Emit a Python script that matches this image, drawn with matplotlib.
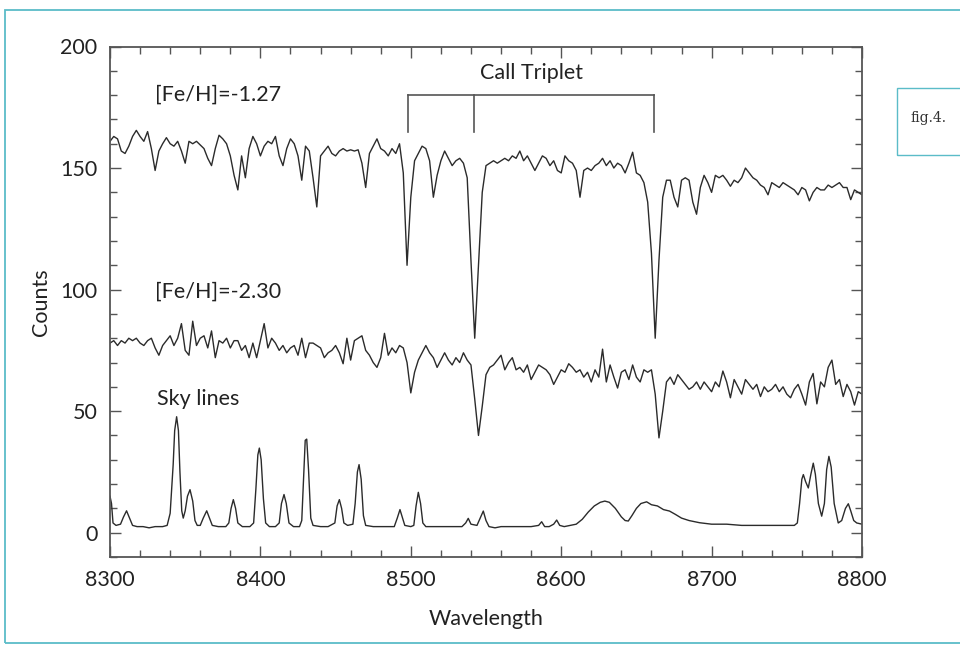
import numpy as np
import matplotlib.pyplot as plt
from matplotlib.patches import Rectangle
from matplotlib.ticker import MultipleLocator

# ---------------------------------------------------------------- data
# common wavelength grid of the two stellar spectra (2.5 A step)
wave = np.arange(8300.0, 8800.1, 2.5)

# [Fe/H] = -1.27 star
flux_metal_rich = [
    161, 163, 162, 157, 156, 159, 163, 165.5, 163, 161,      # 8300
    165, 158, 149, 157, 160, 162.5, 160, 159, 161, 157,      # 8325
    152, 161, 160, 161, 159.5, 158, 154, 151, 158, 163.5,    # 8350
    162, 160, 155, 147, 141, 155, 146, 158, 163, 160,        # 8375
    155, 159, 161, 160, 163, 155, 151, 158, 162, 160,        # 8400
    155, 145, 159, 157, 146, 134, 155, 157, 159, 156,        # 8425
    155, 157, 158, 157, 157.5, 157, 157.5, 152, 142, 156,    # 8450
    159, 162, 158, 157, 155, 158, 156, 160, 148, 110,        # 8475
    138, 153, 156, 159, 158, 153, 138, 147, 153, 157,        # 8500
    154, 151, 153, 154, 152, 146, 112, 80, 110, 140,         # 8525
    151, 152, 153, 152, 153, 154, 153, 155, 154, 157,        # 8550
    153, 155, 152, 149, 152, 155, 154, 151, 153, 149,        # 8575
    148, 155, 153, 152, 149, 138, 149, 150, 149, 151,        # 8600
    152, 154, 151, 153, 150, 152, 151, 148, 152, 156.5,      # 8625
    148, 147, 144, 136, 115, 80, 112, 138, 145, 145,         # 8650
    138, 134, 145, 146, 145, 136, 131, 142, 147, 144,        # 8675
    140, 147, 146, 147, 145, 142.5, 145, 144, 146, 150,      # 8700
    148, 146, 145, 143, 142, 139, 144, 143, 142, 144,        # 8725
    143, 142, 141, 139, 142, 141, 136.5, 140, 142, 141,      # 8750
    141, 143, 142, 143, 144, 142, 142, 137, 141, 140,        # 8775
    139,                                                     # 8800
]

# [Fe/H] = -2.30 star
flux_metal_poor = [
    78, 79, 77, 79, 78, 80, 79, 80, 78, 77,                  # 8300
    79, 80, 76, 73, 77, 79, 81, 77, 80, 86,                  # 8325
    75, 73, 87, 77, 80, 81, 76, 83, 72, 79,                  # 8350
    78, 80, 76, 79, 79, 75, 77, 72, 78, 72,                  # 8375
    79, 86, 76, 80, 78, 75, 77, 74, 76, 77,                  # 8400
    73, 80, 72, 78, 78, 77, 76, 72, 74, 75,                  # 8425
    77, 74, 69.5, 80, 71, 79, 80, 81, 75, 73,                # 8450
    70, 68, 72, 82, 73, 76, 74, 77, 76, 70,                  # 8475
    57.5, 66, 71, 74, 77, 74, 72, 68, 71, 74,                # 8500
    71, 69, 72, 70, 74, 71, 69, 55, 40, 52,                  # 8525
    65, 68, 69, 71, 73, 67, 70, 72, 67, 68,                  # 8550
    66, 69, 63, 66, 69, 68, 67, 65, 61, 64,                  # 8575
    67, 66, 69.5, 68, 66, 67, 64, 66, 62, 67,                # 8600
    64, 75.5, 62, 69, 64, 59.5, 66, 67, 63, 69,              # 8625
    64, 62, 67, 66, 67, 57, 39, 50, 62, 64,                  # 8650
    61, 65, 63, 61, 59, 60, 62, 59, 62, 60,                  # 8675
    58, 62, 60, 66.5, 62, 55.5, 63, 60, 57, 63,              # 8700
    61, 59, 61, 56, 60, 58, 59, 61, 58, 60,                  # 8725
    57, 55.5, 59, 61, 57, 52.5, 62, 65.5, 53, 62,            # 8750
    60, 68, 71, 61, 63, 56, 61, 58, 52.5, 58,                # 8775
    57,                                                      # 8800
]

# sky emission spectrum (irregular sampling around the OH lines)
sky_wave = [
    8300, 8301, 8302, 8304, 8307, 8309, 8311, 8313, 8315, 8318,
    8322, 8326, 8330, 8335, 8338, 8340, 8342, 8343, 8344.3, 8345.5,
    8346.5, 8347.7, 8348.7, 8350, 8351.5, 8353.2, 8355, 8356.5, 8358, 8360,
    8362, 8364.3, 8366.5, 8368, 8372, 8377, 8379, 8380.5, 8382, 8383.5,
    8385, 8388, 8393, 8395.5, 8397, 8398.3, 8399.3, 8400.5, 8402, 8403.5,
    8406, 8410, 8412.5, 8414, 8415.7, 8417.2, 8419, 8422, 8426, 8427.5,
    8428.8, 8429.8, 8430.8, 8432, 8433.5, 8435, 8440, 8445, 8449.5, 8451,
    8452.5, 8454, 8455.5, 8458, 8461.5, 8463, 8464.5, 8465.6, 8467, 8468.5,
    8470, 8475, 8480, 8485, 8489, 8491, 8492.8, 8494.5, 8496, 8500,
    8502, 8503.5, 8505, 8506.5, 8508, 8510, 8515, 8520, 8525, 8530,
    8534, 8536.5, 8538.2, 8540, 8544, 8546.5, 8548.2, 8550, 8552, 8556,
    8560, 8565, 8570, 8575, 8580, 8585, 8587, 8589, 8592, 8595,
    8597, 8599, 8602, 8606, 8610, 8614, 8618, 8622, 8626, 8629,
    8632, 8636, 8640, 8642.5, 8644.6, 8647, 8650, 8653, 8656.8, 8660,
    8664, 8668, 8672, 8676, 8680, 8685, 8692, 8700, 8710, 8720,
    8730, 8740, 8750, 8755, 8757, 8758.5, 8760, 8761, 8762.5, 8764.3,
    8766, 8767.6, 8769, 8771, 8773.2, 8775, 8776.5, 8778, 8779.5, 8781.5,
    8784.2, 8786.5, 8789, 8790.9, 8792.5, 8794.5, 8796.5, 8800,
]
sky_counts = [
    15, 12, 4, 3, 3.5, 6.5, 9, 6, 3, 2.5,
    2.5, 2, 2.5, 2.5, 3, 8, 28, 42, 47.7, 42,
    25, 9, 6, 9, 15, 17.7, 13, 5, 3, 3,
    6, 9, 5.5, 3, 2.5, 2.5, 4, 10, 13.6, 10,
    4, 2.5, 2.5, 4, 18, 32, 34.8, 30, 14, 4,
    2.5, 2.5, 4, 12, 15.7, 12, 4, 2.5, 2.5, 5,
    24, 38, 38.5, 26, 6, 3, 2.5, 2.5, 4, 11,
    13.6, 10, 4, 3, 3.5, 12, 25, 28, 22, 7,
    3, 2.5, 2.5, 2.5, 2.5, 6, 9.5, 6, 3, 2.5,
    3, 11, 16.6, 12, 4, 2.5, 2.5, 2.5, 2.5, 2.5,
    2.5, 4, 5.9, 3.5, 3, 6.5, 8.9, 5, 2.5, 2,
    2.5, 2.5, 2.5, 2.5, 2.5, 3, 4.5, 2.5, 2.5, 3.5,
    5.2, 3, 2.5, 3, 3.5, 5.5, 8.5, 11, 12.5, 13,
    12.5, 10, 6.5, 5, 4.8, 7, 10, 12, 12.7, 11.5,
    11, 9.5, 8.9, 7.5, 6, 5, 4.1, 3.5, 3.5, 3,
    3, 3, 3, 3, 4, 12, 22, 23.9, 21, 18.4,
    24, 28.6, 24, 12, 6.8, 12, 26, 31.4, 27, 12,
    4, 5, 10, 11.9, 9, 5, 4, 3.5,
]

# Ca II triplet marker
triplet_lines = [8498, 8542, 8662]

# ---------------------------------------------------------------- figure
plt.rcParams['font.family'] = ['Lato', 'DejaVu Sans']
ftsize = 15.5
line_col = '#2b2b2b'
frame_col = '#555555'
text_col = '#222222'
teal = '#5bbcc8'

fig = plt.figure(figsize=(9.6, 6.48), dpi=100)
# axes: x 110..862 px, y 46.5..557 px
ax = fig.add_axes([110 / 960, 1 - 557 / 648, 752 / 960, 510.5 / 648])

ax.plot(wave, flux_metal_rich, color=line_col, lw=1.0)
ax.plot(wave, flux_metal_poor, color=line_col, lw=1.0)
ax.plot(sky_wave, sky_counts, color=line_col, lw=1.0)

ax.set_xlim(8300, 8800)
ax.set_ylim(-10, 200)

ax.xaxis.set_major_locator(MultipleLocator(100))
ax.xaxis.set_minor_locator(MultipleLocator(20))
ax.yaxis.set_major_locator(MultipleLocator(50))
ax.yaxis.set_minor_locator(MultipleLocator(10))
ax.tick_params(which='both', direction='in', top=True, right=True,
               color=frame_col, labelsize=ftsize, labelcolor=text_col)
ax.tick_params(which='major', length=8, width=1.0, pad=9)
ax.tick_params(which='minor', length=5, width=1.0)
for sp in ax.spines.values():
    sp.set_color(frame_col)
    sp.set_linewidth(1.3)

ax.set_xlabel('Wavelength', fontsize=ftsize, labelpad=14, color=text_col)
ax.set_ylabel('Counts', fontsize=ftsize, labelpad=7, color=text_col)

# labels inside the plot
ax.text(8330, 180, '[Fe/H]=-1.27', fontsize=ftsize, va='center', color=text_col)
ax.text(8330, 99, '[Fe/H]=-2.30', fontsize=ftsize, va='center', color=text_col)
ax.text(8331, 55, 'Sky lines', fontsize=ftsize, va='center', color=text_col)

# Ca II triplet bracket
ax.plot([triplet_lines[0], triplet_lines[-1]], [180, 180], color=frame_col, lw=1.2)
for wl in triplet_lines:
    ax.plot([wl, wl], [165, 180], color=frame_col, lw=1.2)
ax.text(8580, 189, 'Call Triplet', fontsize=ftsize, ha='center', va='center',
        color=text_col)

# page frame and side caption box
fig.patches.append(Rectangle((5 / 960, 5 / 648), 1.2, 633 / 648,
                             transform=fig.transFigure, fill=False,
                             edgecolor=teal, lw=1.3))
fig.patches.append(Rectangle((897 / 960, 1 - 155 / 648), 0.2, 67 / 648,
                             transform=fig.transFigure, fill=False,
                             edgecolor=teal, lw=1.0))
fig.text(928 / 960, 1 - 118 / 648, 'fig.4.', fontsize=10, ha='center',
         va='center', family='DejaVu Serif', color='#333333')

fig.savefig('out.png', dpi=100)
